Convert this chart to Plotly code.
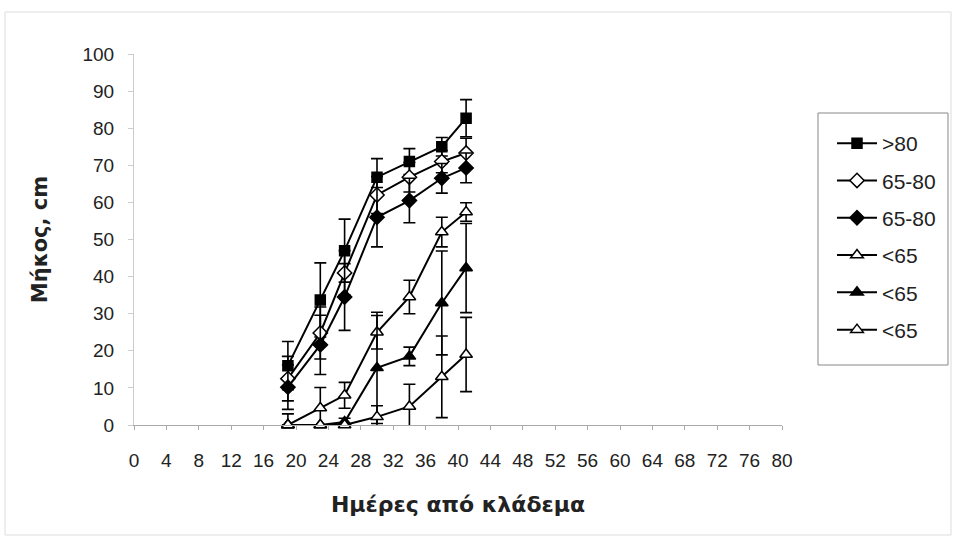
import plotly.graph_objects as go

days = [19, 23, 26, 30, 34, 38, 41]

names = [">80", "65-80", "65-80", "<65", "<65", "<65"]
gt80 = [16, 33.7, 47, 66.8, 71, 75, 82.7]
gt80_err = [6.5, 10, 8.5, 5, 3.5, 2.5, 5]
mid_open = [12.5, 24.8, 41, 62, 66.8, 71, 73.3]
mid_open_err = [6, 7, 6, 5, 4, 3, 4]
mid_fill = [10.2, 21.6, 34.5, 56, 60.5, 66.5, 69.3]
mid_fill_err = [6, 8, 9, 8, 6, 4, 4]
low_open1 = [0, 4.6, 8, 25, 34.5, 52, 57.4]
low_open1_err = [3, 5.5, 3.5, 4.5, 4.5, 4, 2.5]
low_fill = [0, 0, 0.8, 15.4, 18.5, 32.9, 42.3]
low_fill_err = [0, 0, 1, 15, 2.5, 14, 12]
low_open2 = [0, 0, 0, 2.2, 5, 13, 19]
low_open2_err = [0, 0, 0, 3, 6, 11, 10]

series = [
    (gt80, gt80_err, "square", "black", 10),
    (mid_open, mid_open_err, "diamond", "white", 11),
    (mid_fill, mid_fill_err, "diamond", "black", 11),
    (low_open1, low_open1_err, "triangle-up", "white", 11),
    (low_fill, low_fill_err, "triangle-up", "black", 11),
    (low_open2, low_open2_err, "triangle-up", "white", 11),
]

FONT = "Liberation Sans, Arial, sans-serif"
TFONT = "DejaVu Sans, Verdana, sans-serif"

# plot area in pixels
L, R, T, B = 134, 782, 54, 425
PW, PH = R - L, B - T


def px_x(px):
    return (px - L) / PW


def px_y(py):
    return (B - py) / PH


fig = go.Figure()
for i, (vals, errs, sym, fill, sz) in enumerate(series):
    fig.add_trace(go.Scatter(
        x=days, y=vals, name=names[i], mode="lines+markers",
        legendgroup=f"g{i}",
        line=dict(color="black", width=2),
        marker=dict(symbol=sym, color=fill, size=sz,
                    line=dict(color="black", width=1.5)),
        error_y=dict(type="data", array=errs, visible=True,
                     color="black", thickness=1.6, width=6),
        cliponaxis=False,
    ))

fig.update_layout(
    width=956, height=540,
    margin=dict(l=L, r=956 - R, t=T, b=540 - B),
    paper_bgcolor="white", plot_bgcolor="white",
    font=dict(family=FONT, size=19, color="#222"),
    showlegend=True,
    legend=dict(x=px_x(832), y=px_y(123), xanchor="left", yanchor="top",
                borderwidth=0, bgcolor="rgba(0,0,0,0)",
                font=dict(size=21, family=FONT, color="#222"),
                tracegroupgap=7, traceorder="grouped",
                itemwidth=40),
    xaxis=dict(range=[0, 80], tickvals=list(range(0, 81, 4)),
               showgrid=False, zeroline=False, showline=True,
               linecolor="#aaa", linewidth=1, ticks="outside",
               ticklen=4, tickcolor="#aaa", ticklabelstandoff=14,
               tickfont=dict(size=19, family=FONT, color="#222"),
               title=dict(text="<b>Ημέρες από κλάδεμα</b>",
                          font=dict(size=22, family=TFONT, color="#222"),
                          standoff=26)),
    yaxis=dict(range=[0, 100], tickvals=list(range(0, 101, 10)),
               showgrid=False, zeroline=False, showline=True,
               linecolor="#ccc", linewidth=1, ticks="outside",
               ticklen=5, tickcolor="#ccc", ticklabelstandoff=10,
               tickfont=dict(size=19, family=FONT, color="#222"),
               title=dict(text="<b>Μήκος, cm</b>",
                          font=dict(size=21, family=TFONT, color="#222"),
                          standoff=29)),
)

# outer chart frame
fig.add_shape(type="rect", xref="paper", yref="paper",
              x0=px_x(5), x1=px_x(951), y0=px_y(535), y1=px_y(12),
              line=dict(color="#ddd", width=1), layer="below")
# legend frame
fig.add_shape(type="rect", xref="paper", yref="paper",
              x0=px_x(818), x1=px_x(948), y0=px_y(365), y1=px_y(113),
              line=dict(color="#888", width=1), layer="below")

fig.write_html("out.html")
